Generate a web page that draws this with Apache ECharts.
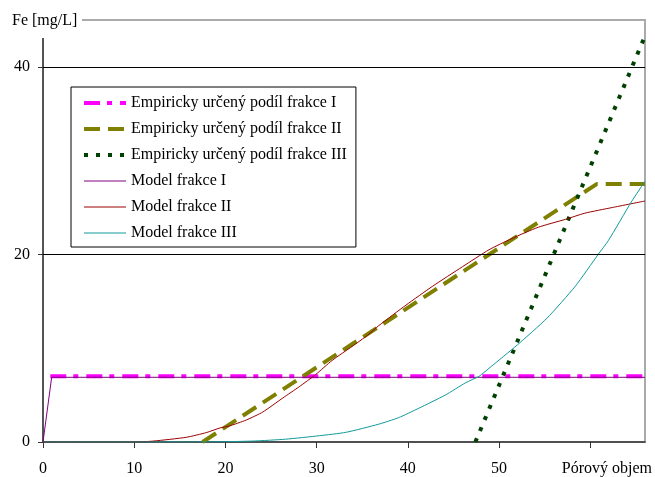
<!DOCTYPE html>
<html>
<head>
<meta charset="utf-8">
<script src="https://cdn.jsdelivr.net/npm/echarts@6/dist/echarts.min.js"></script>
<style>
html,body{margin:0;padding:0;background:#fff;}
#chart{width:655px;height:477px;}
</style>
</head>
<body>
<div id="chart"></div>
<script>
// ---- data ----
const seriesNames = [
  'Empiricky určený podíl frakce I',
  'Empiricky určený podíl frakce II',
  'Empiricky určený podíl frakce III',
  'Model frakce I',
  'Model frakce II',
  'Model frakce III'
];
const empIx = [0.8, 66];
const empIy = [7.0, 7.0];
const empIIx = [17.5, 60.7, 66];
const empIIy = [0, 27.5, 27.5];
const empIIIx = [47.4, 66];
const empIIIy = [0, 43.3];
const modIx = [0, 0.95, 66];
const modIy = [0, 6.9, 6.9];
const modIIx = [0, 10.2, 12.1, 15.7, 17.9, 19.4, 20.4, 22.3, 24.1, 26.3, 28.1, 29.9, 31.7, 33.9, 35.6, 36.8, 39.8, 42.7, 46.0, 48.9, 51.4, 54.3, 57.3, 59.4, 62.4, 66.0];
const modIIy = [0, 0, 0.1, 0.5, 1.0, 1.5, 1.7, 2.35, 3.2, 4.7, 5.9, 7.2, 8.7, 10.2, 11.4, 12.4, 14.6, 16.6, 18.7, 20.5, 21.7, 22.9, 23.75, 24.4, 25.0, 25.7];
const modIIIx = [0, 17.5, 23, 26.6, 30.3, 33.2, 36.8, 39.0, 41.2, 44.1, 46.3, 47.8, 48.9, 52.0, 55.25, 58.35, 60.9, 62.0, 64.5, 66.0];
const modIIIy = [0, 0, 0.1, 0.3, 0.67, 1.03, 1.9, 2.6, 3.6, 5.0, 6.3, 7.0, 7.86, 10.35, 13.2, 16.6, 20.05, 21.5, 25.6, 27.8];
const xTicks = [0, 10, 20, 30, 40, 50, 60];
const xLabels = [0, 10, 20, 30, 40, 50];
const yTicks = [0, 20, 40];
const gridValues = [20, 40];
const xAxisTitle = 'Pórový objem';
const yAxisTitle = 'Fe [mg/L]';

function pairs(xs, ys) { return xs.map((x, i) => [x, ys[i]]); }

const FONT = 'Liberation Serif';
const chart = echarts.init(document.getElementById('chart'), null, {renderer: 'canvas'});

const styles = [
  {color: '#ff00ff', width: 4, type: [16, 7, 5, 8]},
  {color: '#808000', width: 4, type: [16, 8]},
  {color: '#004000', width: 4, type: [4, 8]},
  {color: '#800080', width: 1, type: 'solid'},
  {color: '#990000', width: 1, type: 'solid'},
  {color: '#109a9a', width: 1, type: 'solid'}
];

function lineSeries(i, data, extra) {
  const s = styles[i];
  return Object.assign({
    name: seriesNames[i],
    type: 'line',
    data: data,
    symbol: 'none',
    smooth: false,
    clip: true,
    lineStyle: {color: s.color, width: s.width, type: s.type, cap: 'butt'},
    itemStyle: {color: s.color},
    emphasis: {disabled: true}
  }, extra || {});
}

chart.setOption({
  animation: false,
  backgroundColor: '#fff',
  textStyle: {fontFamily: FONT},
  grid: {
    left: 43, top: 20, right: 9, bottom: 35,
    show: true, borderColor: '#aaaaaa', borderWidth: 2, backgroundColor: 'transparent'
  },
  legend: {
    orient: 'vertical',
    left: 71, top: 87,
    padding: [8, 9, 6, 11],
    itemGap: 10,
    itemWidth: 42,
    itemHeight: 14,
    borderColor: '#000',
    borderWidth: 1,
    backgroundColor: '#fff',
    itemStyle: {opacity: 0, borderWidth: 0},
    textStyle: {fontFamily: FONT, fontSize: 16, color: '#000'},
    data: seriesNames.map((n, i) => ({
      name: n,
      lineStyle: {color: styles[i].color, width: styles[i].width, type: styles[i].type, cap: 'butt'}
    }))
  },
  xAxis: {
    type: 'value',
    min: 0, max: 66, interval: 10,
    name: xAxisTitle,
    nameLocation: 'end',
    nameGap: 7,
    nameTextStyle: {fontFamily: FONT, fontSize: 16, color: '#000', align: 'right', verticalAlign: 'top', padding: [19, 0, 0, 0]},
    axisLine: {show: true, onZero: false, lineStyle: {color: '#333', width: 1.5}},
    axisTick: {show: true, inside: false, length: 6, customValues: xTicks, lineStyle: {color: '#333', width: 1}},
    axisLabel: {show: true, margin: 19, customValues: xLabels, fontFamily: FONT, fontSize: 16, color: '#000'},
    splitLine: {show: false}
  },
  yAxis: {
    type: 'value',
    min: 0, max: 45, interval: 20,
    axisLine: {show: true, onZero: false, lineStyle: {color: '#555', width: 2}},
    axisTick: {show: true, inside: false, length: 5, customValues: yTicks, lineStyle: {color: '#333', width: 1}},
    axisLabel: {show: true, margin: 13, customValues: yTicks, fontFamily: FONT, fontSize: 16, color: '#000'},
    splitLine: {show: false}
  },
  graphic: [
    {type: 'rect', z: 100, shape: {x: 0, y: 0, width: 82, height: 38}, style: {fill: '#fff'}},
    {type: 'text', z: 101, x: 12, y: 21, style: {text: yAxisTitle, fontFamily: FONT, fontSize: 16, fill: '#000', textVerticalAlign: 'middle', textAlign: 'left'}}
  ],
  series: [
    lineSeries(0, pairs(empIx, empIy), {
      markLine: {
        silent: true,
        symbol: ['none', 'none'],
        label: {show: false},
        lineStyle: {color: '#000', width: 1, type: 'solid'},
        emphasis: {disabled: true},
        data: gridValues.map(v => ({yAxis: v}))
      }
    }),
    lineSeries(1, pairs(empIIx, empIIy)),
    lineSeries(2, pairs(empIIIx, empIIIy)),
    lineSeries(3, pairs(modIx, modIy)),
    lineSeries(4, pairs(modIIx, modIIy), {smooth: 0.2}),
    lineSeries(5, pairs(modIIIx, modIIIy), {smooth: 0.2})
  ]
});
</script>
</body>
</html>
